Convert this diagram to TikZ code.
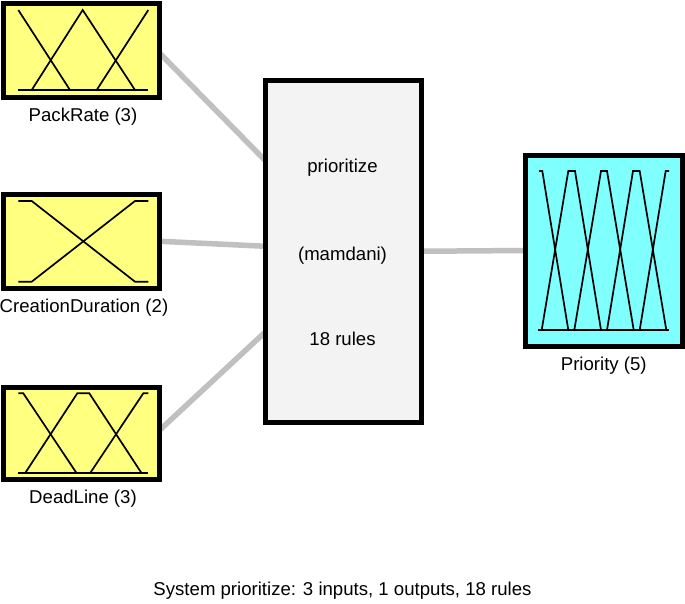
\documentclass[tikz,border=0pt]{standalone}
\usepackage{fontspec}
\setmainfont{Liberation Sans}
\usetikzlibrary{backgrounds}
\definecolor{inyellow}{RGB}{255,255,128}
\definecolor{outcyan}{RGB}{128,255,255}
\definecolor{fisgray}{RGB}{243,243,243}
\definecolor{conngray}{RGB}{192,192,192}
\tikzset{
  varbox/.style={draw=black, line width=5pt, inner sep=0pt, outer sep=0pt},
  conn/.style={draw=conngray, line width=5.5pt},
  mf/.style={draw=black, line width=1.7pt, line join=miter},
  lbl/.style={font=\fontsize{18.6}{22}\selectfont, inner sep=0pt, anchor=base}
}
\begin{document}
\begin{tikzpicture}[x=1pt,y=-1pt]
\useasboundingbox (0,0) rectangle (685,603);
% boxes
\node[varbox, fill=inyellow, minimum width=156pt, minimum height=94pt] (pr) at (81.5,50.5) {};
\node[varbox, fill=inyellow, minimum width=156pt, minimum height=93.5pt] (cd) at (81.5,241.25) {};
\node[varbox, fill=inyellow, minimum width=156pt, minimum height=91.5pt] (dl) at (81.5,433.25) {};
\node[varbox, fill=fisgray, minimum width=156pt, minimum height=342.5pt] (fis) at (343,251.25) {};
\node[varbox, fill=outcyan, minimum width=157.5pt, minimum height=191pt] (prio) at (603.75,250.5) {};
% connectors
\begin{scope}[on background layer]
\draw[conn] ([yshift=-2.5pt]pr.east) -- ([yshift=91pt]fis.west);
\draw[conn] (cd.east) -- ([yshift=5pt]fis.west);
\draw[conn] ([yshift=3pt]dl.east) -- ([yshift=-81pt]fis.west);
\draw[conn] (fis.east) -- (prio.west);
\end{scope}
% membership functions: PackRate
\draw[mf] (18.3,90) -- (148.3,90);
\draw[mf] (18.3,10) -- (70,90);
\draw[mf] (31.7,90) -- (82.7,10) -- (135,90);
\draw[mf] (96.7,90) -- (148.3,10);
% CreationDuration
\draw[mf] (18.3,201) -- (31.7,201) -- (135,281.7) -- (148.3,281.7);
\draw[mf] (18.3,281.7) -- (31.7,281.7) -- (135,201) -- (148.3,201);
% DeadLine
\draw[mf] (18.3,473.3) -- (148.3,473.3);
\draw[mf] (18.3,393.3) -- (23.3,393.3) -- (76.7,473.3);
\draw[mf] (25,473.3) -- (77.3,393.3) -- (89.3,393.3) -- (141.7,473.3);
\draw[mf] (90,473.3) -- (143.3,393.3) -- (148.3,393.3);
% Priority
\draw[mf] (538.3,330) -- (669,330);
\draw[mf] (539,171) -- (542.3,171) -- (568.3,330);
\draw[mf] (541.7,330) -- (568.3,171) -- (575,171) -- (601,330);
\draw[mf] (574.3,330) -- (601,171) -- (607,171) -- (633.7,330);
\draw[mf] (607,330) -- (633,171) -- (639.7,171) -- (666.3,330);
\draw[mf] (639.7,330) -- (665.7,171) -- (669,171);
% labels
\node[lbl] (prl) at (83,121) {PackRate (3)};
\node[lbl] (cdl) at (84,312) {CreationDuration (2)};
\node[lbl] (dll) at (83,503) {DeadLine (3)};
\node[lbl] (priol) at (603.75,370) {Priority (5)};
\node[lbl] (fis1) at (342.5,172.7) {prioritize};
\node[lbl] (fis2) at (342.5,260) {(mamdani)};
\node[lbl] (fis3) at (342.5,345) {18 rules};
\node[lbl] (cap) at (342.5,595) {System prioritize: 3 inputs, 1 outputs, 18 rules};
\end{tikzpicture}
\end{document}
